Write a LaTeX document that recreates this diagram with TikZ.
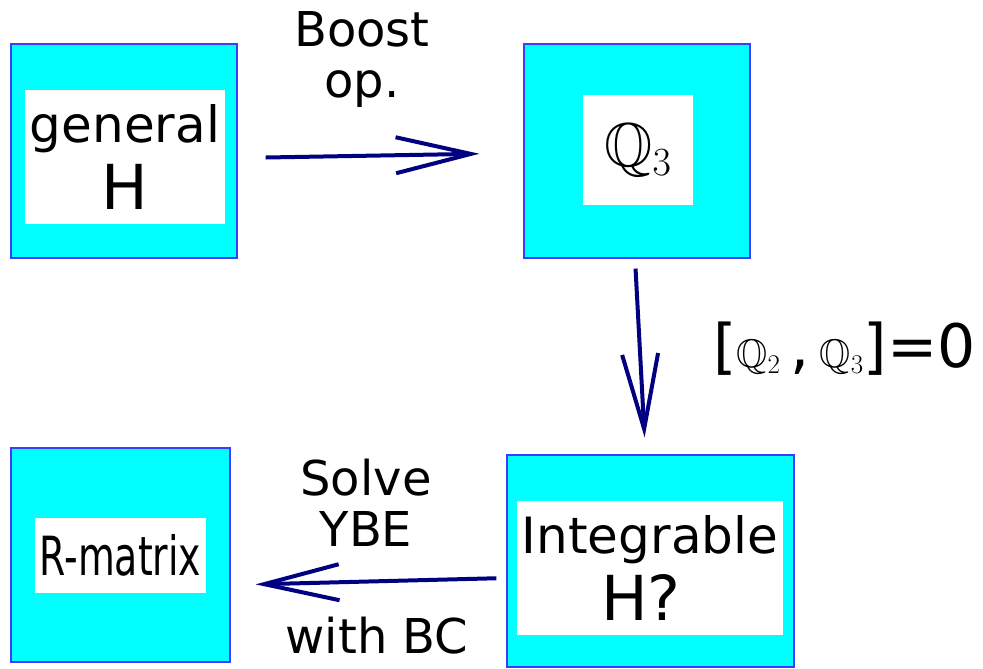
\documentclass[tikz,border=0pt]{standalone}
\usepackage{fix-cm}
\usepackage{amssymb}
\usepackage{graphicx}
\usepackage{fontspec}
\setmainfont{DejaVu Sans}
\usetikzlibrary{arrows.meta}
\DeclareMathSizes{62}{62}{40}{30}
\DeclareMathSizes{40}{40}{27}{20}
\definecolor{boxcyan}{RGB}{0,255,255}
\definecolor{boxedge}{RGB}{60,60,255}
\definecolor{arrnavy}{RGB}{0,0,128}
\newcommand{\fsz}[2]{\fontsize{#1}{#2}\selectfont}
\tikzset{
  outerbox/.style={draw=boxedge,line width=1.2pt,fill=boxcyan,inner sep=0pt},
  innerbox/.style={fill=white,inner sep=0pt,align=center,font=\fsz{50}{67}},
  flow/.style={arrnavy,line width=4pt,-{Straight Barb[length=75pt,width=36pt,line width=4pt]}},
  lab/.style={font=\fsz{48}{51},align=center,inner sep=0pt}
}

\begin{document}
\begin{tikzpicture}[x=1pt,y=-1pt]
  \useasboundingbox (0,0) rectangle (983,669);
  % boxes
  \node[outerbox,minimum width=226pt,minimum height=214pt] (gen) at (124,151) {};
  \node[innerbox,minimum width=200pt,minimum height=134pt] (genin) at (125,157) {general\\{\fsz{62}{67}H}};
  \node[outerbox,minimum width=226pt,minimum height=214pt] (q3) at (637,151) {};
  \node[innerbox,minimum width=110pt,minimum height=110pt] (q3in) at (638,150) {\fsz{62}{67}$\mathbb{Q}_3$};
  \node[outerbox,minimum width=287pt,minimum height=212pt] (integ) at (650.5,561) {};
  \node[innerbox,minimum width=266pt,minimum height=134pt] (integin) at (650,568) {Integrable\\{\fsz{62}{67}H?\hspace*{18pt}}};
  \node[outerbox,minimum width=219pt,minimum height=214pt] (rmat) at (120.5,555) {};
  \node[innerbox,minimum width=171pt,minimum height=75pt] (rmatin) at (120.5,555.5) {\scalebox{0.7}[1]{\fsz{54}{60}R-matrix}};
  % arrows
  \draw[flow,shorten <=28pt,shorten >=44pt] ([yshift=-7pt]gen.east) -- ([yshift=-2pt]q3.west);
  \draw[flow,shorten <=10pt,shorten >=17pt] ([xshift=-2pt]q3.south) -- ([xshift=-5pt]integ.north);
  \draw[flow,shorten <=10pt,shorten >=25pt] ([yshift=-17pt]integ.west) -- ([yshift=-30pt]rmat.east);
  % labels
  \node[lab] (boost) at (362,59) {Boost\\op.};
  \node[lab,anchor=base west] (comm) at (713,367) {\fsz{60}{60}[{\fsz{40}{40}$\mathbb{Q}_2$}\,,\,{\fsz{40}{40}$\mathbb{Q}_3$}]=0};
  \node[lab] (solve) at (366,503) {Solve\\YBE};
  \node[lab] (withbc) at (377,636) {with BC};
\end{tikzpicture}
\end{document}
